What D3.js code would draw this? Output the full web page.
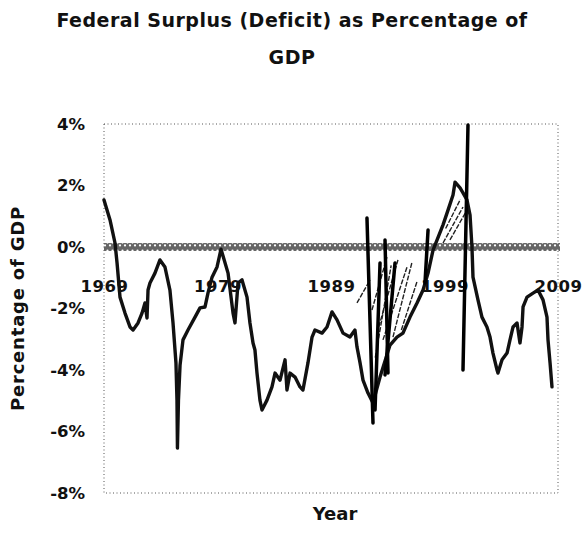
<!DOCTYPE html>
<html>
<head>
<meta charset="utf-8">
<script src="https://cdn.jsdelivr.net/npm/d3@7"></script>
<style>
	body { margin: 0; background: #fff; }
	text { font-family: "DejaVu Sans", sans-serif; font-weight: bold; fill: #111; }
</style>
</head>
<body>
<svg id="chart"></svg>
<script>
// surplus (+) / deficit (-) as % of GDP
var years = [1969.00, 1969.53, 1969.97, 1970.15, 1970.41, 1970.85, 1971.29, 1971.56, 1972.00, 1972.35,
	1972.61, 1972.79, 1972.88, 1973.05, 1973.49, 1973.93, 1974.37, 1974.81, 1975.08, 1975.34,
	1975.43, 1975.47, 1975.56, 1975.70, 1975.96, 1976.40, 1977.02, 1977.46, 1977.90, 1978.16,
	1978.52, 1978.96, 1979.31, 1979.93, 1980.37, 1980.54, 1980.81, 1981.16, 1981.60, 1981.86,
	1982.13, 1982.30, 1982.48, 1982.74, 1982.92, 1983.36, 1983.80, 1984.07, 1984.51, 1984.95,
	1985.12, 1985.39, 1985.83, 1986.27, 1986.53, 1986.97, 1987.33, 1987.59, 1988.21, 1988.65,
	1989.09, 1989.53, 1990.06, 1990.67, 1991.11, 1991.29, 1991.56, 1991.82, 1992.26, 1992.70,
	1993.32, 1994.20, 1994.81, 1995.34, 1995.96, 1996.58, 1997.11, 1997.55, 1997.99, 1998.87,
	1999.31, 1999.75, 1999.93, 2000.37, 2000.63, 2000.98, 2001.25, 2001.42, 2001.51, 2001.95,
	2002.30, 2002.74, 2003.01, 2003.27, 2003.63, 2003.71, 2004.07, 2004.51, 2004.77, 2005.04,
	2005.39, 2005.65, 2005.83, 2005.92, 2006.27, 2006.80, 2007.24, 2007.68, 2008.03, 2008.12,
	2008.30, 2008.47]
var values = [1.53, 0.88, 0.13, -0.52, -1.63, -2.15, -2.60, -2.70, -2.47, -2.15,
	-1.82, -2.31, -1.40, -1.17, -0.85, -0.42, -0.65, -1.40, -2.47, -3.77,
	-4.98, -6.54, -4.98, -3.84, -3.02, -2.70, -2.28, -1.98, -1.95, -1.50,
	-0.98, -0.65, -0.07, -0.85, -2.15, -2.47, -1.17, -1.07, -1.63, -2.47,
	-3.12, -3.35, -4.10, -4.98, -5.30, -4.98, -4.55, -4.10, -4.33, -3.67,
	-4.65, -4.10, -4.23, -4.55, -4.65, -3.77, -2.93, -2.70, -2.80, -2.60,
	-2.11, -2.37, -2.80, -2.93, -2.70, -3.25, -3.77, -4.33, -4.75, -5.07,
	-4.23, -3.19, -2.93, -2.80, -2.28, -1.82, -1.40, -0.85, -0.10, 0.72,
	1.20, 1.69, 2.11, 1.92, 1.76, 1.53, 1.04, 0.00, -0.98, -1.72,
	-2.28, -2.60, -2.93, -3.45, -4.00, -4.10, -3.67, -3.45, -3.02, -2.60,
	-2.47, -3.12, -2.60, -1.95, -1.63, -1.50, -1.40, -1.72, -2.28, -3.02,
	-3.77, -4.55]

var xTicks = [1969, 1979, 1989, 1999, 2009]
var yTicks = [4, 2, 0, -2, -4, -6, -8]

// pen marks drawn over the printed chart: [year1, value1, year2, value2]
var heavyStrokes = [
	[2001.07, 3.97, 2000.63, -4.00],
	[1992.17, 0.94, 1992.70, -5.72],
	[1993.76, 0.23, 1994.02, -4.10],
	[1997.55, 0.55, 1997.28, -1.17],
	[1993.32, -0.52, 1992.88, -5.30],
	[1994.64, -0.52, 1993.76, -4.16]
]
var hatchStrokes = [
	[1992.61, -2.05, 1993.93, -0.33],
	[1993.05, -2.80, 1994.90, -0.42],
	[1993.58, -3.02, 1995.70, -0.65],
	[1994.46, -2.93, 1996.14, -0.49],
	[1992.90, -3.60, 1994.30, -0.60],
	[1995.20, -2.70, 1996.60, -1.10],
	[1991.29, -1.82, 1992.44, -1.07],
	[1998.87, 0.13, 2000.63, 1.30],
	[1999.48, 0.23, 2000.98, 1.20],
	[1999.10, 0.60, 2000.40, 1.55]
]

var data = years.map((yr, i) => {return {"x": yr, "y": values[i]}})

var width = 584
var height = 550
var margin = ({top: 124, right: 26, bottom: 57, left: 104})

var x = d3.scaleLinear()
	.domain([1969, 2009])
	.range([margin.left, width - margin.right])

var y = d3.scaleLinear()
	.domain([-8, 4])
	.range([height - margin.bottom, margin.top])

var svg = d3.select("#chart")
	.attr("width", width)
	.attr("height", height)
	.attr("viewBox", [0, 0, width, height])

// crosshatch used for the zero line
var pat = svg.append("defs").append("pattern")
	.attr("id", "xhatch")
	.attr("patternUnits", "userSpaceOnUse")
	.attr("width", 5)
	.attr("height", 8)
pat.append("rect").attr("width", 5).attr("height", 8).attr("fill", "#666")
pat.append("circle").attr("cx", 2.5).attr("cy", 2.6).attr("r", 1.1).attr("fill", "#fff")
pat.append("circle").attr("cx", 0).attr("cy", 5.4).attr("r", 1.1).attr("fill", "#fff")
pat.append("circle").attr("cx", 5).attr("cy", 5.4).attr("r", 1.1).attr("fill", "#fff")

// title
svg.append("text")
	.attr("x", width / 2)
	.attr("y", 27)
	.attr("text-anchor", "middle")
	.attr("font-size", 19)
	.attr("letter-spacing", 0.5)
	.text("Federal Surplus (Deficit) as Percentage of")
svg.append("text")
	.attr("x", width / 2)
	.attr("y", 64)
	.attr("text-anchor", "middle")
	.attr("font-size", 19)
	.attr("letter-spacing", 0.5)
	.text("GDP")

// dotted plot frame
svg.append("rect")
	.attr("x", x(1969))
	.attr("y", y(4))
	.attr("width", x(2009) - x(1969))
	.attr("height", y(-8) - y(4))
	.attr("fill", "none")
	.attr("stroke", "#555")
	.attr("stroke-width", 1)
	.attr("stroke-dasharray", "1,2.5")

// y axis labels
var yAxis = g => g
	.attr("transform", `translate(${margin.left - 16},0)`)
	.call(d3.axisLeft(y).tickValues(yTicks).tickSize(0).tickFormat(d => d + "%"))
	.call(g => g.select(".domain").remove())
	.call(g => g.selectAll("text")
		.attr("font-size", 16.5)
		.attr("font-family", "DejaVu Sans")
		.attr("font-weight", "bold")
		.attr("fill", "#111"))

svg.append("g").call(yAxis)

// zero line
svg.append("rect")
	.attr("x", x(1969))
	.attr("y", y(0) - 4)
	.attr("width", x(2009) - x(1969) + 2)
	.attr("height", 8)
	.attr("fill", "url(#xhatch)")

// x axis labels sit below the zero line
var xAxis = g => g
	.attr("transform", `translate(0,${y(0) + 36})`)
	.call(d3.axisBottom(x).tickValues(xTicks).tickSize(0).tickFormat(d3.format("d")))
	.call(g => g.select(".domain").remove())
	.call(g => g.selectAll("text")
		.attr("dy", "0.35em")
		.attr("font-size", 16.5)
		.attr("letter-spacing", 0.5)
		.attr("font-family", "DejaVu Sans")
		.attr("font-weight", "bold")
		.attr("fill", "#111"))

svg.append("g").call(xAxis)

// axis titles
svg.append("text")
	.attr("transform", `translate(24,${(y(4) + y(-8)) / 2}) rotate(-90)`)
	.attr("text-anchor", "middle")
	.attr("font-size", 18)
	.attr("letter-spacing", 0.8)
	.text("Percentage of GDP")

svg.append("text")
	.attr("x", (x(1969) + x(2009)) / 2 + 4)
	.attr("y", 520)
	.attr("text-anchor", "middle")
	.attr("font-size", 18)
	.text("Year")

// pen hatching
svg.append("g")
	.selectAll("line")
	.data(hatchStrokes)
	.join("line")
	.attr("x1", d => x(d[0]))
	.attr("y1", d => y(d[1]))
	.attr("x2", d => x(d[2]))
	.attr("y2", d => y(d[3]))
	.attr("stroke", "#222")
	.attr("stroke-width", 1.4)
	.attr("stroke-dasharray", "5,1.5")

var lineFunction = d3.line()
	.x(d => x(d.x))
	.y(d => y(d.y))

svg.append("path")
	.attr("fill", "none")
	.attr("stroke", "#111")
	.attr("stroke-width", 3.4)
	.attr("stroke-linejoin", "round")
	.attr("stroke-linecap", "round")
	.attr("d", lineFunction(data))

// heavy pen strokes
svg.append("g")
	.selectAll("line")
	.data(heavyStrokes)
	.join("line")
	.attr("x1", d => x(d[0]))
	.attr("y1", d => y(d[1]))
	.attr("x2", d => x(d[2]))
	.attr("y2", d => y(d[3]))
	.attr("stroke", "#000")
	.attr("stroke-width", 3.5)
	.attr("stroke-linecap", "round")
</script>
</body>
</html>
